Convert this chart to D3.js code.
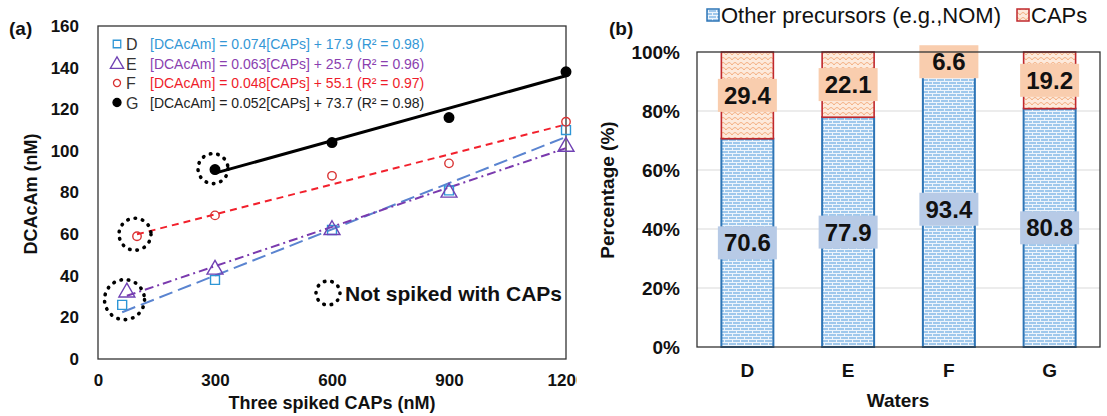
<!DOCTYPE html>
<html>
<head>
<meta charset="utf-8">
<script src="https://cdn.jsdelivr.net/npm/d3@7"></script>
<style>
  body { margin: 0; background: #fff; }
  text { font-family: Arial, "Liberation Sans", sans-serif; }
</style>
</head>
<body>
<script>
// ---- Données panneau (a) : DCAcAm vs CAPs ----
const xTicksA = [0, 300, 600, 900, 1200]
const yTicksA = [0, 20, 40, 60, 80, 100, 120, 140, 160]
const waters = ["D", "E", "F", "G"]
// premier point = eau non dopée (CAPs de fond)
const capsD = [62, 300, 600, 900, 1200]
const dcaD = [26, 38, 62, 81, 110]
const capsE = [74, 300, 600, 900, 1200]
const dcaE = [32, 43, 62, 80, 102]
const capsF = [100, 300, 600, 900, 1200]
const dcaF = [59, 69, 88, 94, 114]
const capsG = [300, 600, 900, 1200]
const dcaG = [91, 104, 116, 138]
const slopes = [0.074, 0.063, 0.048, 0.052]
const intercepts = [17.9, 25.7, 55.1, 73.7]
const r2 = [0.98, 0.96, 0.97, 0.98]

// ---- Données panneau (b) : pourcentages ----
const pctTicks = [0, 20, 40, 60, 80, 100]
const otherPct = [70.6, 77.9, 93.4, 80.8]
const capsPct = [29.4, 22.1, 6.6, 19.2]

const svg = d3.select("body")
    .append("svg")
    .attr("width", 1107)
    .attr("height", 416)

const defs = svg.append("defs")
// motif "brique" bleu
const brick = defs.append("pattern").attr("id", "brick")
    .attr("width", 8).attr("height", 6).attr("patternUnits", "userSpaceOnUse")
brick.append("rect").attr("width", 8).attr("height", 6).attr("fill", "#9FC8EC")
brick.append("path").attr("d", "M0,0.5H8M0,3.5H8M0.5,0V3.5M4.5,3.5V6")
    .attr("stroke", "#EEF5FC").attr("stroke-width", 1).attr("fill", "none")
// motif "écailles" pêche
const scale = defs.append("pattern").attr("id", "shingle")
    .attr("width", 6).attr("height", 5).attr("patternUnits", "userSpaceOnUse")
scale.append("rect").attr("width", 6).attr("height", 5).attr("fill", "#FDEADC")
scale.append("path").attr("d", "M0,5Q3,0 6,5")
    .attr("stroke", "#F3AE80").attr("stroke-width", 1).attr("fill", "none")
defs.append("clipPath").attr("id", "clipA")
    .append("rect").attr("x", 0).attr("y", 0).attr("width", 577).attr("height", 416)

// ======================= panneau (a) =======================
const gA = svg.append("g").attr("clip-path", "url(#clipA)")

let x = d3.scaleLinear().domain([0, 1200]).range([98, 566])
let y = d3.scaleLinear().domain([0, 160]).range([359, 26])

gA.append("rect")
    .attr("x", x(0)).attr("y", y(160))
    .attr("width", x(1200) - x(0)).attr("height", y(0) - y(160))
    .attr("fill", "none").attr("stroke", "#333").attr("stroke-width", 1.3)

//axe des x
gA.append("g")
    .attr("transform", "translate(0," + y(0) + ")")
    .call(d3.axisBottom(x).tickValues(xTicksA).tickSize(0).tickPadding(15).tickFormat(d3.format("d")))
    .call(g => g.select(".domain").remove())
    .selectAll("text")
    .attr("font-size", 17).attr("font-weight", "bold").attr("fill", "#111")
//axe des y
gA.append("g")
    .attr("transform", "translate(" + x(0) + ",0)")
    .call(d3.axisLeft(y).tickValues(yTicksA).tickSize(0).tickPadding(19))
    .call(g => g.select(".domain").remove())
    .selectAll("text")
    .attr("font-size", 17).attr("font-weight", "bold").attr("fill", "#111")

gA.append("text").attr("x", (x(0) + x(1200)) / 2).attr("y", 409)
    .attr("text-anchor", "middle").attr("font-size", 18).attr("font-weight", "bold")
    .attr("fill", "#111").text("Three spiked CAPs (nM)")
gA.append("text").attr("transform", "translate(37,194) rotate(-90)")
    .attr("text-anchor", "middle").attr("font-size", 18).attr("font-weight", "bold")
    .attr("fill", "#111").text("DCAcAm (nM)")
gA.append("text").attr("x", 9).attr("y", 35)
    .attr("font-size", 19).attr("font-weight", "bold").attr("fill", "#111").text("(a)")

// séries : style des lignes et marqueurs
const series = [
    { xs: capsD, ys: dcaD, sym: d3.symbolSquare, size: 80, mark: "#2E96D6", line: "#5A84D0", dash: "14,6", lw: 2, txt: "#3497D6", filled: false },
    { xs: capsE, ys: dcaE, sym: d3.symbolTriangle, size: 110, mark: "#7042B4", line: "#7A3AAE", dash: "9,4,2,4", lw: 2, txt: "#8A3FB0", filled: false },
    { xs: capsF, ys: dcaF, sym: d3.symbolCircle, size: 56, mark: "#D93333", line: "#F2202C", dash: "7,5", lw: 2, txt: "#EE1C2A", filled: false },
    { xs: capsG, ys: dcaG, sym: d3.symbolCircle, size: 72, mark: "#000", line: "#000", dash: null, lw: 3, txt: "#222", filled: true }
]

// droites de régression (du premier point jusqu'à 1200)
series.forEach((s, i) => {
    const x0 = s.xs[0], x1 = 1200
    gA.append("line")
        .attr("x1", x(x0)).attr("y1", y(slopes[i] * x0 + intercepts[i]))
        .attr("x2", x(x1)).attr("y2", y(slopes[i] * x1 + intercepts[i]))
        .attr("stroke", s.line).attr("stroke-width", s.lw)
        .attr("stroke-dasharray", s.dash)
})

// points
series.forEach(s => {
    gA.selectAll(null)
        .data(s.xs.map((v, j) => [v, s.ys[j]]))
        .enter()
        .append("path")
        .attr("transform", d => "translate(" + x(d[0]) + "," + y(d[1]) + ")")
        .attr("d", d3.symbol().type(s.sym).size(s.size))
        .attr("fill", s.filled ? s.mark : "none")
        .attr("stroke", s.mark).attr("stroke-width", 1.4)
})

// cercles pointillés autour des eaux non dopées
function dotCircle(cx, cy, r) {
    gA.append("circle").attr("cx", cx).attr("cy", cy).attr("r", r)
        .attr("fill", "none").attr("stroke", "#000").attr("stroke-width", 3.6)
        .attr("stroke-linecap", "round").attr("stroke-dasharray", "0.5,7")
}
dotCircle((x(capsD[0]) + x(capsE[0])) / 2, (y(dcaD[0]) + y(dcaE[0])) / 2 + 1, 20)
dotCircle(x(capsF[0]) - 2, y(dcaF[0]) - 2, 16)
dotCircle(x(capsG[0]) - 2, y(dcaG[0]) - 1, 15)
dotCircle(328, 293, 12)
gA.append("text").attr("x", 345).attr("y", 301)
    .attr("font-size", 21).attr("font-weight", "bold").attr("fill", "#111")
    .text("Not spiked with CAPs")

// légende (a)
const rowsY = [44, 63.5, 83, 102.5]
series.forEach((s, i) => {
    const ry = rowsY[i]
    gA.append("path")
        .attr("transform", "translate(117," + (ry + (i == 1 ? 1 : 0)) + ")")
        .attr("d", d3.symbol().type(s.sym).size(s.size * 0.7))
        .attr("fill", s.filled ? s.mark : "none")
        .attr("stroke", s.mark).attr("stroke-width", 1.3)
    gA.append("text").attr("x", 126).attr("y", ry + 6)
        .attr("font-size", 16).attr("fill", "#333").text(waters[i])
    gA.append("text").attr("x", 150).attr("y", ry + 5)
        .attr("font-size", 14).attr("fill", s.txt)
        .text(`[DCAcAm] = ${slopes[i].toFixed(3)}[CAPs] + ${intercepts[i].toFixed(1)} (R² = ${r2[i].toFixed(2)})`)
})

// ======================= panneau (b) =======================
const gB = svg.append("g")

let xb = d3.scaleBand().domain(waters).range([697, 1100])
    .paddingInner(0.484).paddingOuter(0.242)
let yb = d3.scaleLinear().domain([0, 100]).range([347, 52])

// grille
gB.selectAll("grid")
    .data(pctTicks.slice(1, -1))
    .enter()
    .append("line")
    .attr("x1", 697).attr("x2", 1100)
    .attr("y1", d => yb(d)).attr("y2", d => yb(d))
    .attr("stroke", "#D9D9D9").attr("stroke-width", 1)

gB.append("g")
    .attr("transform", "translate(697,0)")
    .call(d3.axisLeft(yb).tickValues(pctTicks).tickSize(0).tickPadding(17).tickFormat(d => d + "%"))
    .call(g => g.select(".domain").remove())
    .selectAll("text")
    .attr("font-size", 19).attr("font-weight", "bold").attr("fill", "#111")
gB.append("g")
    .attr("transform", "translate(0," + yb(0) + ")")
    .call(d3.axisBottom(xb).tickSize(0).tickPadding(17))
    .call(g => g.select(".domain").remove())
    .selectAll("text")
    .attr("font-size", 19).attr("font-weight", "bold").attr("fill", "#111")

// Bars
waters.forEach((w, i) => {
    gB.append("rect")
        .attr("x", xb(w)).attr("y", yb(otherPct[i]))
        .attr("width", xb.bandwidth()).attr("height", yb(0) - yb(otherPct[i]))
        .attr("fill", "url(#brick)").attr("stroke", "#2E75B6").attr("stroke-width", 2)
    gB.append("rect")
        .attr("x", xb(w)).attr("y", yb(100))
        .attr("width", xb.bandwidth()).attr("height", yb(otherPct[i]) - yb(100))
        .attr("fill", "url(#shingle)").attr("stroke", "#C0282D").attr("stroke-width", 1.6)
})

// étiquettes de valeurs
function valueLabel(cx, cy, txt, bg) {
    gB.append("rect").attr("x", cx - 29.5).attr("y", cy - 16.5)
        .attr("width", 59).attr("height", 33).attr("fill", bg)
    gB.append("text").attr("x", cx).attr("y", cy + 8.5)
        .attr("text-anchor", "middle").attr("font-size", 24).attr("font-weight", "bold")
        .attr("fill", "#111").text(txt)
}
waters.forEach((w, i) => {
    const cx = xb(w) + xb.bandwidth() / 2
    valueLabel(cx, yb(otherPct[i] / 2), otherPct[i].toFixed(1), "#B7CAE6")
    valueLabel(cx, yb(otherPct[i] + capsPct[i] / 2), capsPct[i].toFixed(1), "#F9CDAE")
})

gB.append("rect")
    .attr("x", 697).attr("y", yb(100))
    .attr("width", 403).attr("height", yb(0) - yb(100))
    .attr("fill", "none").attr("stroke", "#333").attr("stroke-width", 1.3)

gB.append("text").attr("x", 898).attr("y", 407)
    .attr("text-anchor", "middle").attr("font-size", 19).attr("font-weight", "bold")
    .attr("fill", "#111").text("Waters")
gB.append("text").attr("transform", "translate(614,190) rotate(-90)")
    .attr("text-anchor", "middle").attr("font-size", 19).attr("font-weight", "bold")
    .attr("fill", "#111").text("Percentage (%)")
gB.append("text").attr("x", 609).attr("y", 35)
    .attr("font-size", 19).attr("font-weight", "bold").attr("fill", "#111").text("(b)")

// légende (b)
const legB = [
    { x: 707, fill: "url(#brick)", stroke: "#2E75B6", label: "Other precursors (e.g.,NOM)" },
    { x: 1017, fill: "url(#shingle)", stroke: "#C0282D", label: "CAPs" }
]
legB.forEach(l => {
    gB.append("rect").attr("x", l.x).attr("y", 9).attr("width", 12).attr("height", 12)
        .attr("fill", l.fill).attr("stroke", l.stroke).attr("stroke-width", 1.5)
    gB.append("text").attr("x", l.x + 14).attr("y", 23)
        .attr("font-size", 22).attr("fill", "#111").text(l.label)
})
</script>
</body>
</html>
